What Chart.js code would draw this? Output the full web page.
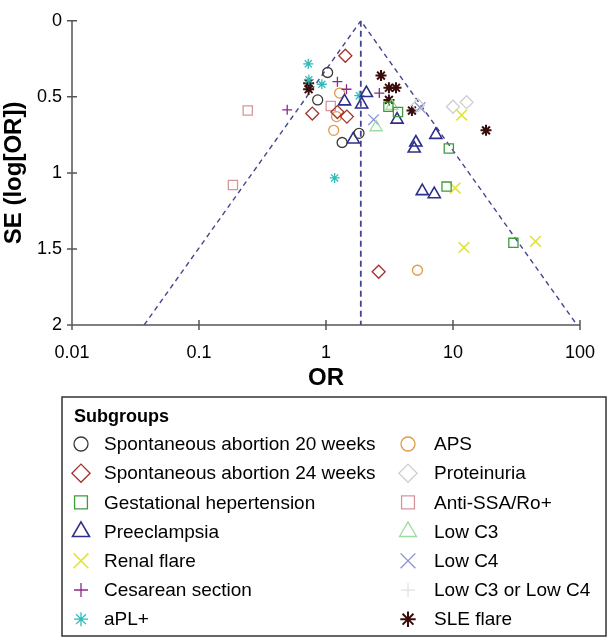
<!DOCTYPE html>
<html>
<head>
<meta charset="utf-8">
<title>Funnel plot</title>
<script src="https://cdn.jsdelivr.net/npm/chart.js@4.4.1/dist/chart.umd.min.js"></script>
<style>
    html, body { margin: 0; padding: 0; background: #fff; }
    #wrap { width: 612px; height: 639px; }
</style>
</head>
<body>
<div id="wrap"><canvas id="funnel-chart" width="612" height="639"></canvas></div>
<script>
// Axis ticks
const xTicks = [0.01, 0.1, 1, 10, 100];
const xTickLabels = ['0.01', '0.1', '1', '10', '100'];
const yTicks = [0, 0.5, 1, 1.5, 2];
const yTickLabels = ['0', '0.5', '1', '1.5', '2'];

// Pooled estimate and 95% funnel limits
const funnelOR = [0.037, 1.88, 94.8];
const funnelSE = [2, 0, 2];
const pooledOR = [1.88, 1.88];
const pooledSE = [0, 2];

// Subgroup studies (OR, SE of log OR)
const spont20OR = [1.03, 0.86, 1.34, 1.82];
const spont20SE = [0.34, 0.52, 0.80, 0.74];
const spont24OR = [1.42, 0.78, 1.23, 1.46, 2.6];
const spont24SE = [0.23, 0.61, 0.60, 0.63, 1.65];
const gestHtOR = [3.1, 3.69, 9.27, 8.9, 29.9];
const gestHtSE = [0.565, 0.60, 0.84, 1.09, 1.46];
const preeclOR = [2.08, 1.40, 1.91, 3.63, 1.64, 5.1, 4.95, 7.33, 5.73, 7.12];
const preeclSE = [0.475, 0.53, 0.55, 0.65, 0.78, 0.80, 0.84, 0.75, 1.12, 1.14];
const renalOR = [11.7, 10.4, 12.2, 44.6];
const renalSE = [0.62, 1.10, 1.49, 1.45];
const cesarOR = [0.495, 1.23, 1.45, 2.63];
const cesarSE = [0.585, 0.40, 0.45, 0.475];
const aplOR = [0.725, 0.733, 0.927, 1.83, 1.17];
const aplSE = [0.283, 0.387, 0.417, 0.492, 1.033];
const apsOR = [1.28, 1.21, 1.15, 5.25];
const apsSE = [0.475, 0.63, 0.72, 1.64];
const proteinOR = [10.0, 12.8, 5.3];
const proteinSE = [0.565, 0.535, 0.555];
const ssaOR = [0.242, 1.09, 0.185];
const ssaSE = [0.59, 0.56, 1.08];
const lowC3OR = [2.48, 3.3];
const lowC3SE = [0.70, 0.56];
const lowC4OR = [2.37, 5.5];
const lowC4SE = [0.65, 0.57];
const lowC3C4OR = [];
const lowC3C4SE = [];
const sleOR = [0.73, 0.73, 2.71, 3.13, 3.56, 3.13, 4.75, 18.2];
const sleSE = [0.41, 0.45, 0.36, 0.44, 0.44, 0.52, 0.59, 0.72];

const fontFamily = '"Liberation Sans", Arial, sans-serif';

function pairs(xs, ys) {
    return xs.map((x, i) => ({ x: x, y: ys[i] }));
}

function subgroup(label, xs, ys, style, radius, color, width) {
    return {
        label: label,
        data: pairs(xs, ys),
        pointStyle: style,
        pointRadius: radius,
        pointHoverRadius: radius,
        pointBorderWidth: width || 1.3,
        borderColor: color,
        backgroundColor: 'rgba(0,0,0,0)',
        showLine: false
    };
}

const funnelColor = '#45458f';

const datasets = [
    subgroup('Spontaneous abortion 20 weeks', spont20OR, spont20SE, 'circle', 5, '#3a3a3a'),
    subgroup('Spontaneous abortion 24 weeks', spont24OR, spont24SE, 'rectRot', 6.5, '#a3332c'),
    subgroup('Gestational hepertension', gestHtOR, gestHtSE, 'rect', 6.5, '#3c9c3c'),
    subgroup('Preeclampsia', preeclOR, preeclSE, 'triangle', 7, '#2e2e8c', 1.6),
    subgroup('Renal flare', renalOR, renalSE, 'crossRot', 7.5, '#e2e23c', 1.6),
    subgroup('Cesarean section', cesarOR, cesarSE, 'cross', 5, '#8a2a8a'),
    subgroup('aPL+', aplOR, aplSE, 'star', 5, '#2cbcbc'),
    subgroup('APS', apsOR, apsSE, 'circle', 5, '#e09a4a'),
    subgroup('Proteinuria', proteinOR, proteinSE, 'rectRot', 6.5, '#cfcfcf'),
    subgroup('Anti-SSA/Ro+', ssaOR, ssaSE, 'rect', 6.5, '#d8959a'),
    subgroup('Low C3', lowC3OR, lowC3SE, 'triangle', 7, '#9fdc9f'),
    subgroup('Low C4', lowC4OR, lowC4SE, 'crossRot', 7.5, '#8a92d2'),
    subgroup('Low C3 or Low C4', lowC3C4OR, lowC3C4SE, 'cross', 5, '#dadada', 1),
    subgroup('SLE flare', sleOR, sleSE, 'star', 5.5, '#3a0c0c', 2),
    {
        label: 'funnel',
        data: pairs(funnelOR, funnelSE),
        showLine: true,
        pointRadius: 0,
        borderColor: funnelColor,
        borderWidth: 1.4,
        borderDash: [5, 4],
        fill: false
    },
    {
        label: 'pooled',
        data: pairs(pooledOR, pooledSE),
        showLine: true,
        pointRadius: 0,
        borderColor: funnelColor,
        borderWidth: 1.8,
        borderDash: [6, 4],
        fill: false
    }
];

// Axis lines with tick marks crossing them
const crossTicks = {
    id: 'crossTicks',
    afterDraw(chart) {
        const ctx = chart.ctx;
        const x = chart.scales.x;
        const y = chart.scales.y;
        const area = chart.chartArea;
        ctx.save();
        ctx.strokeStyle = '#555';
        ctx.lineWidth = 1.5;
        ctx.beginPath();
        ctx.moveTo(area.left, area.top);
        ctx.lineTo(area.left, area.bottom);
        ctx.lineTo(area.right, area.bottom);
        xTicks.forEach(v => {
            const px = x.getPixelForValue(v);
            ctx.moveTo(px, area.bottom - 5);
            ctx.lineTo(px, area.bottom + 5);
        });
        yTicks.forEach(v => {
            const py = y.getPixelForValue(v);
            ctx.moveTo(area.left - 5, py);
            ctx.lineTo(area.left + 5, py);
        });
        ctx.stroke();
        ctx.restore();
    }
};

// Boxed two-column legend under the plot
const subgroupLegend = {
    id: 'subgroupLegend',
    afterDraw(chart) {
        const ctx = chart.ctx;
        const box = { left: 62, top: 397, width: 544, height: 239 };
        ctx.save();
        ctx.strokeStyle = '#333';
        ctx.lineWidth = 1.5;
        ctx.strokeRect(box.left, box.top, box.width, box.height);

        ctx.fillStyle = '#000';
        ctx.textBaseline = 'middle';
        ctx.font = 'bold 18px ' + fontFamily;
        ctx.fillText('Subgroups', 74, 417);

        ctx.font = '19px ' + fontFamily;
        for (let i = 0; i < 14; i++) {
            const ds = chart.data.datasets[i];
            const col = i < 7 ? 0 : 1;
            const row = i % 7;
            const cy = 444 + row * 29.2;
            const sx = col === 0 ? 81 : 408;
            const tx = col === 0 ? 104 : 434;

            ctx.strokeStyle = ds.borderColor;
            ctx.fillStyle = 'rgba(0,0,0,0)';
            ctx.lineWidth = ds.pointBorderWidth;
            Chart.helpers.drawPoint(ctx, {
                pointStyle: ds.pointStyle,
                radius: ds.pointRadius * 1.4,
                borderWidth: ds.pointBorderWidth,
                rotation: 0
            }, sx, cy);

            ctx.fillStyle = '#000';
            ctx.fillText(ds.label, tx, cy + 1);
        }
        ctx.restore();
    }
};

new Chart(document.getElementById('funnel-chart'), {
    type: 'scatter',
    data: { datasets: datasets },
    options: {
        responsive: false,
        animation: false,
        events: [],
        layout: {
            padding: { top: 8, right: 16, bottom: 242, left: 0 }
        },
        plugins: {
            legend: { display: false },
            tooltip: { enabled: false }
        },
        scales: {
            x: {
                type: 'logarithmic',
                min: 0.01,
                max: 100,
                afterBuildTicks: function(scale) {
                    scale.ticks = xTicks.map(v => ({ value: v }));
                },
                afterFit: function(scale) {
                    scale.height = 72;
                },
                grid: { display: false, drawTicks: false },
                border: { display: false },
                ticks: {
                    color: '#000',
                    padding: 17,
                    maxRotation: 0,
                    autoSkip: false,
                    font: { family: fontFamily, size: 18 },
                    callback: function(value) {
                        const idx = xTicks.indexOf(value);
                        return idx >= 0 ? xTickLabels[idx] : '';
                    }
                },
                title: {
                    display: true,
                    text: 'OR',
                    color: '#000',
                    padding: { top: 4, bottom: 4 },
                    font: { family: fontFamily, size: 24, weight: 'bold' }
                }
            },
            y: {
                reverse: true,
                min: 0,
                max: 2,
                afterBuildTicks: function(scale) {
                    scale.ticks = yTicks.map(v => ({ value: v }));
                },
                afterFit: function(scale) {
                    scale.width = 72;
                },
                grid: { display: false, drawTicks: false },
                border: { display: false },
                ticks: {
                    color: '#000',
                    padding: 10,
                    font: { family: fontFamily, size: 18 },
                    callback: function(value) {
                        const idx = yTicks.indexOf(value);
                        return idx >= 0 ? yTickLabels[idx] : '';
                    }
                },
                title: {
                    display: true,
                    text: 'SE (log[OR])',
                    color: '#000',
                    padding: { top: 0, bottom: 0 },
                    font: { family: fontFamily, size: 24, weight: 'bold' }
                }
            }
        }
    },
    plugins: [crossTicks, subgroupLegend]
});
</script>
</body>
</html>
